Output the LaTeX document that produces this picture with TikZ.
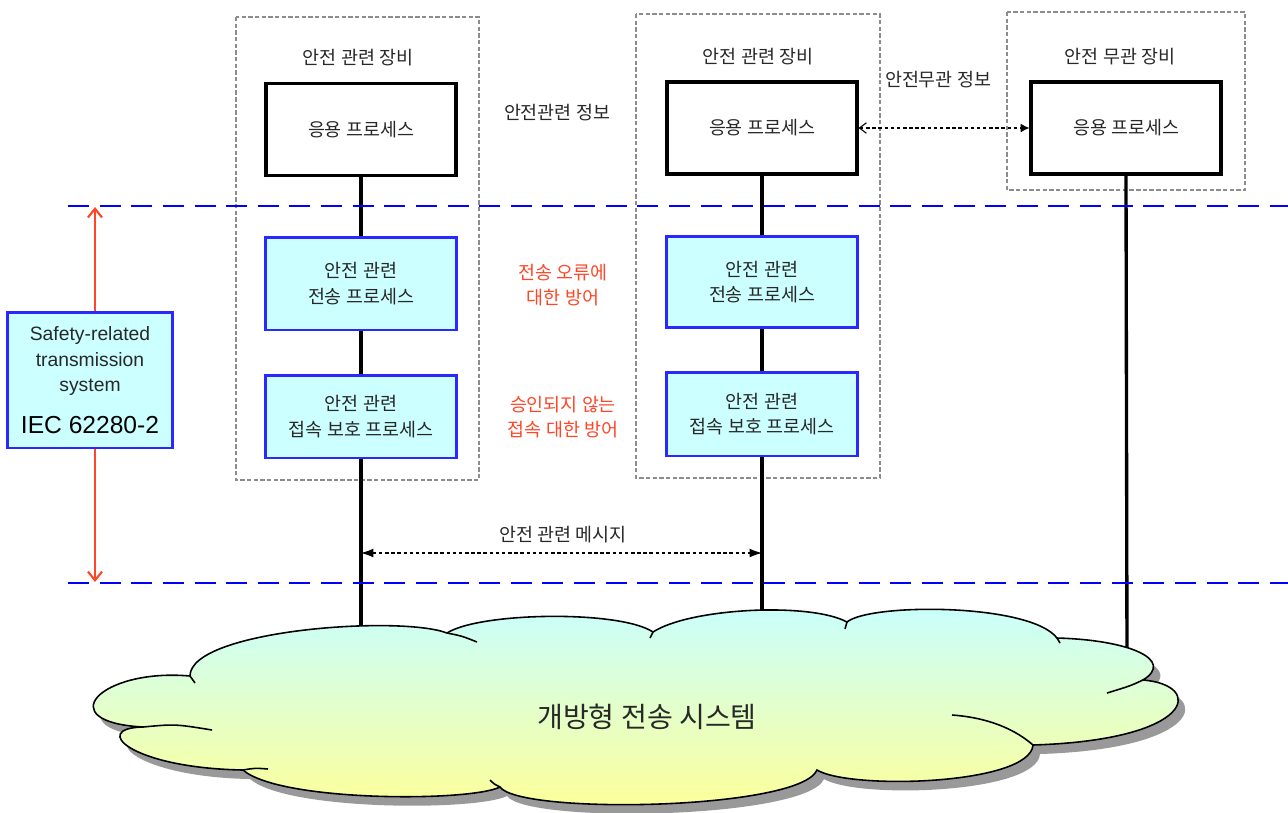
\documentclass[tikz,border=0pt]{standalone}
\usepackage{fontspec}
\setmainfont{Liberation Sans}
\newfontfamily\kr{Noto Sans CJK KR}
\usetikzlibrary{arrows.meta}
\definecolor{boxcyan}{RGB}{204,255,255}
\definecolor{boxblue}{RGB}{40,40,255}
\definecolor{linblue}{RGB}{0,0,255}
\definecolor{redtxt}{RGB}{255,70,40}
\definecolor{cloudtop}{RGB}{200,255,255}
\definecolor{cloudbot}{RGB}{255,255,150}
\definecolor{txtgray}{RGB}{40,40,40}
\begin{document}
\begin{tikzpicture}[x=0.02cm,y=-0.02cm,
  krtext/.style={font=\kr\fontsize{10.5}{14.5}\selectfont, text=txtgray, inner sep=0pt, align=center},
  redlbl/.style={krtext, text=redtxt},
  appbox/.style={krtext, draw=black, line width=1.8pt, fill=white, minimum width=3.8cm, minimum height=1.84cm},
  bluebox/.style={krtext, draw=boxblue, line width=1.7pt, fill=boxcyan, minimum width=3.84cm},
  grpbox/.style={draw=gray!90, line width=1.1pt, dash pattern=on 2.5pt off 1.3pt},
  conn/.style={draw=black, line width=1.9pt},
  bluedash/.style={draw=linblue, line width=1.3pt, dash pattern=on 12pt off 6pt},
  msgarrow/.style={draw=black, line width=0.6pt, dash pattern=on 2pt off 1.5pt},
  redarrow/.style={draw=redtxt, line width=1.2pt, {Straight Barb[length=5pt,width=8pt]}-{Straight Barb[length=5pt,width=8pt]}},
  cloudline/.style={draw=black, line width=0.9pt}
]
\useasboundingbox (0,0) rectangle (1288,812);

% group boxes
\draw[grpbox] (236,17) rectangle (479,480);
\draw[grpbox] (636,14) rectangle (880,478);
\draw[grpbox] (1007,12) rectangle (1245,190);

% titles and labels
\node[krtext] (titL) at (358,58) {안전 관련 장비};
\node[krtext] (titM) at (758,57) {안전 관련 장비};
\node[krtext] (titR) at (1120,57) {안전 무관 장비};
\node[krtext] (infoS) at (557,113) {안전관련 정보};
\node[krtext] (infoN) at (938,80) {안전무관 정보};
\node[redlbl] (def1) at (563,285) {전송 오류에\\대한 방어};
\node[redlbl] (def2) at (563,417) {승인되지 않는\\접속 대한 방어};
\node[krtext] (msg) at (563,535) {안전 관련 메시지};

% free ends of the vertical connectors
\coordinate (botL) at (361,640);
\coordinate (botM) at (762,625);
\coordinate (botR) at (1127,665);
\coordinate (msgL) at (361,553);
\coordinate (msgR) at (762,553);
\coordinate (redT) at (95,207);
\coordinate (redB) at (95,582);

% process boxes
\node[appbox] (appL) at (361,129.5) {응용 프로세스};
\node[bluebox, minimum height=1.86cm] (trL) at (361,283.5) {안전 관련\\전송 프로세스};
\node[bluebox, minimum height=1.66cm] (cpL) at (361,416.5) {안전 관련\\접속 보호 프로세스};
\node[appbox] (appM) at (762,128) {응용 프로세스};
\node[bluebox, minimum height=1.82cm] (trM) at (762,282) {안전 관련\\전송 프로세스};
\node[bluebox, minimum height=1.68cm] (cpM) at (762,414) {안전 관련\\접속 보호 프로세스};
\node[appbox] (appR) at (1126,128) {응용 프로세스};

% vertical connectors
\draw[conn] (appL.south) -- (trL.north);
\draw[conn] (trL.south) -- (cpL.north);
\draw[conn] (cpL.south) -- (botL);
\draw[conn] (appM.south) -- (trM.north);
\draw[conn] (trM.south) -- (cpM.north);
\draw[conn] (cpM.south) -- (botM);
\draw[conn] (appR.south) -- (botR);

% horizontal arrows
\draw[msgarrow, {Straight Barb[length=4pt,width=6pt]}-{Latex[length=5pt,width=5pt]}] (appM.east) -- (appR.west);
\draw[msgarrow, {Latex[length=7pt,width=5pt]}-{Latex[length=7pt,width=5pt]}] (msgL) -- (msgR);

% blue dashed boundaries
\coordinate (bl1) at (68,206);
\coordinate (br1) at (1288,206);
\coordinate (bl2) at (68,583);
\coordinate (br2) at (1288,583);
\draw[bluedash] (bl1) -- (br1);
\draw[bluedash] (bl2) -- (br2);

% red arrow and safety box
\draw[redarrow] (redT) -- (redB);
\node[draw=boxblue, line width=1.7pt, fill=boxcyan, minimum width=3.32cm, minimum height=2.72cm,
      align=center, inner sep=0pt, text=txtgray, font=\fontsize{11}{14.5}\selectfont] (srs) at (90,380)
  {Safety-related\\transmission\\system\\[9pt]{\color{black}\fontsize{14}{16}\selectfont IEC 62280-2}};

% cloud
\path[cloudline, top color=cloudtop, bottom color=cloudbot,
      preaction={fill=gray!80, transform canvas={shift={(7,9)}}}]
 (190,676) .. controls (190,630) and (400,615) .. (447,633)
 .. controls (480,612) and (620,610) .. (653,632)
 .. controls (690,608) and (810,602) .. (847,622)
 .. controls (870,603) and (1030,603) .. (1057,638)
 .. controls (1130,640) and (1175,660) .. (1143,680)
 .. controls (1205,685) and (1195,740) .. (1033,745)
 .. controls (1030,785) and (850,790) .. (817,770)
 .. controls (800,810) and (520,815) .. (500,787)
 .. controls (470,802) and (280,802) .. (243,770)
 .. controls (130,768) and (90,728) .. (143,727)
 .. controls (50,722) and (100,668) .. (190,676) -- cycle;
% inner cloud strokes
\draw[cloudline] (143,727) .. controls (175,724) .. (212,730);
\draw[cloudline] (243,770) .. controls (255,768) .. (268,769);
\draw[cloudline] (500,787) .. controls (494,784) .. (490,780);
\draw[cloudline] (447,633) .. controls (462,636) .. (477,642);
\draw[cloudline] (1033,745) .. controls (1010,725) and (980,717) .. (952,715);
\draw[cloudline] (1143,680) .. controls (1130,686) .. (1107,693);
\draw[cloudline] (190,676) .. controls (192,680) .. (195,683);
\draw[cloudline] (653,632) .. controls (651,635) .. (650,638);
\draw[cloudline] (847,622) .. controls (846,625) .. (845,629);
\draw[cloudline] (1057,638) .. controls (1058,640) .. (1060,643);

\node[font=\kr\fontsize{16}{18}\selectfont, text=txtgray] (cloudtxt) at (647,717) {개방형 전송 시스템};
\end{tikzpicture}
\end{document}
